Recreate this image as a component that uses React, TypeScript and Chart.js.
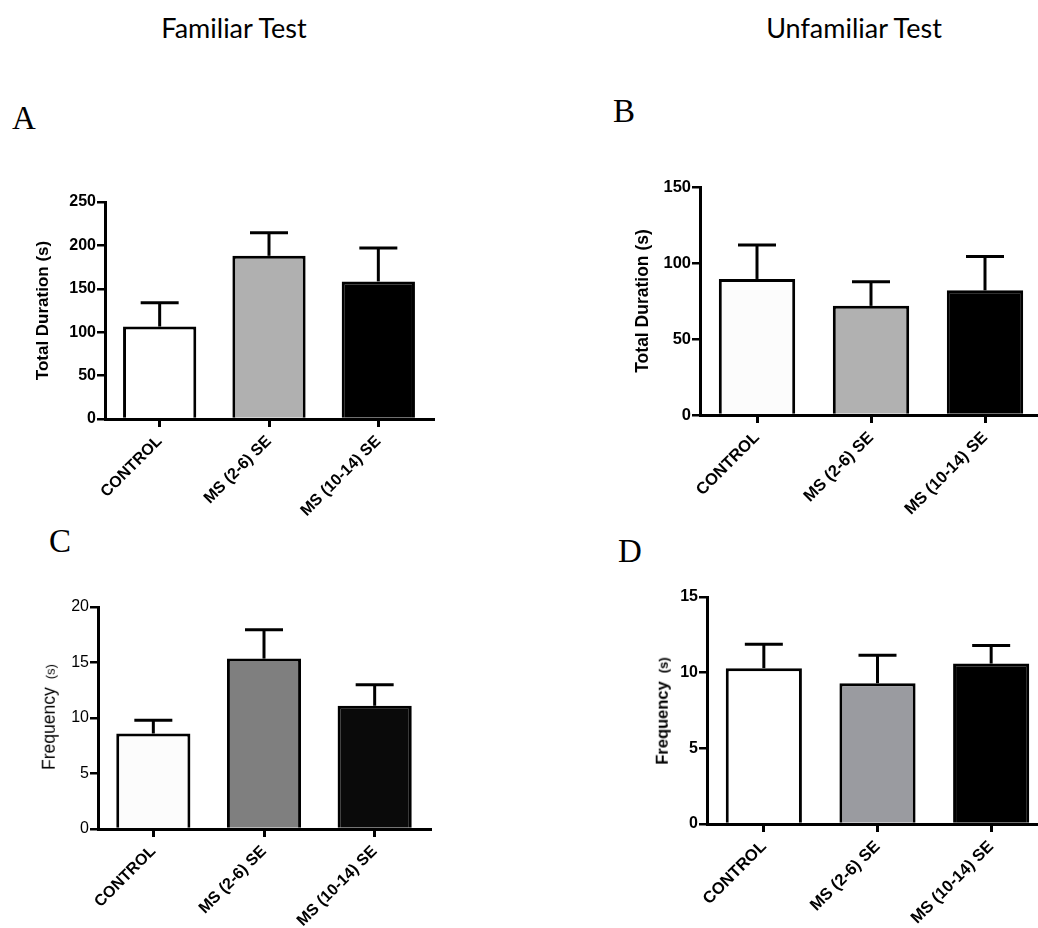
import React, { useEffect, useRef } from "react";
import { Chart, registerables } from "chart.js";

Chart.register(...registerables);

// ---------- data ----------
const categories = ["CONTROL", "MS (2-6) SE", "MS (10-14) SE"];

const durationFamiliar = [106.5, 188, 158.5];
const durationFamiliarSem = [27.5, 26.5, 38.5];
const durationFamiliarTicks = [0, 50, 100, 150, 200, 250];

const durationUnfamiliar = [89.5, 71.8, 82];
const durationUnfamiliarSem = [22.3, 15.8, 22.2];
const durationUnfamiliarTicks = [0, 50, 100, 150];

const frequencyFamiliar = [8.6, 15.35, 11.1];
const frequencyFamiliarSem = [1.2, 2.6, 1.9];
const frequencyFamiliarTicks = [0, 5, 10, 15, 20];

const frequencyUnfamiliar = [10.3, 9.3, 10.6];
const frequencyUnfamiliarSem = [1.58, 1.85, 1.2];
const frequencyUnfamiliarTicks = [0, 5, 10, 15];

const colorsA = ["#ffffff", "#b0b0b0", "#000000"];
const colorsB = ["#fcfcfc", "#b1b1b1", "#000000"];
const colorsC = ["#fcfcfc", "#7f7f7f", "#0a0a0a"];
const colorsD = ["#ffffff", "#9a9ba0", "#000000"];

const SANS = "'Liberation Sans', Arial, Helvetica, sans-serif";

type PanelProps = {
  left: number;
  top: number;
  width: number;
  height: number;
  padTop: number;
  padRight: number;
  yWidth: number;
  xHeight: number;
  values: number[];
  sems: number[];
  ticks: number[];
  colors: string[];
  tickBold: boolean;
  tickSize: number;
  xSize: number;
  title?: string;
  titleSize?: number;
  titlePad?: number;
};

const errorBarPlugin = {
  id: "errorBars",
  afterDatasetsDraw(chart: any, _args: any, opts: any) {
    const sems: number[] = opts.sems || [];
    const meta = chart.getDatasetMeta(0);
    const yScale = chart.scales.y;
    const data = chart.data.datasets[0].data as number[];
    const ctx = chart.ctx;
    ctx.save();
    ctx.strokeStyle = "#000";
    ctx.lineWidth = 3;
    ctx.lineCap = "butt";
    meta.data.forEach((bar: any, i: number) => {
      const v = data[i];
      const e = sems[i];
      const x = bar.x;
      const yBase = yScale.getPixelForValue(v);
      const yTop = yScale.getPixelForValue(v + e);
      ctx.beginPath();
      ctx.moveTo(x, yBase);
      ctx.lineTo(x, yTop);
      ctx.stroke();
      ctx.beginPath();
      ctx.moveTo(x - 19, yTop);
      ctx.lineTo(x + 19, yTop);
      ctx.stroke();
    });
    ctx.restore();
  },
};

function Panel(p: PanelProps) {
  const ref = useRef<HTMLCanvasElement | null>(null);
  useEffect(() => {
    if (!ref.current) return;
    const tickFont = { family: SANS, size: p.tickSize, weight: p.tickBold ? "bold" : "normal" } as any;
    const chart = new Chart(ref.current, {
      type: "bar",
      data: {
        labels: categories,
        datasets: [
          {
            data: p.values,
            backgroundColor: p.colors,
            borderColor: "#000",
            borderWidth: 3,
            borderSkipped: "start",
            categoryPercentage: 1,
            barPercentage: 0.67,
          } as any,
        ],
      },
      options: {
        responsive: false,
        maintainAspectRatio: false,
        animation: false,
        devicePixelRatio: 1,
        layout: { padding: { top: p.padTop, right: p.padRight, left: 0, bottom: 0 } },
        plugins: {
          legend: { display: false },
          tooltip: { enabled: false },
          title: { display: false },
          errorBars: { sems: p.sems },
        } as any,
        scales: {
          x: {
            type: "category",
            offset: true,
            grid: {
              display: true,
              offset: false,
              drawOnChartArea: false,
              drawTicks: true,
              tickLength: 8,
              color: "#000",
              lineWidth: 3,
            },
            border: { display: true, color: "#000", width: 3 },
            ticks: {
              color: "#000",
              font: { family: SANS, size: p.xSize, weight: "bold" } as any,
              maxRotation: 45,
              minRotation: 45,
              padding: 5,
              autoSkip: false,
            },
            afterFit: (s: any) => {
              s.height = p.xHeight;
            },
          } as any,
          y: {
            type: "linear",
            min: p.ticks[0],
            max: p.ticks[p.ticks.length - 1],
            afterBuildTicks: (s: any) => {
              s.ticks = p.ticks.map((v) => ({ value: v }));
            },
            ticks: {
              color: "#000",
              font: tickFont,
              padding: 1,
            },
            grid: {
              drawOnChartArea: false,
              drawTicks: true,
              tickLength: 8,
              color: "#000",
              lineWidth: 2.5,
            },
            border: { display: true, color: "#000", width: 3 },
            title: {
              display: !!p.title,
              text: p.title || "",
              color: "#000",
              font: { family: SANS, size: p.titleSize || 17, weight: "bold" } as any,
              padding: { top: p.titlePad || 0, bottom: 0 },
            },
            afterFit: (s: any) => {
              s.width = p.yWidth;
            },
          } as any,
        },
      },
      plugins: [errorBarPlugin],
    });
    return () => chart.destroy();
  }, []);
  return (
    <canvas
      ref={ref}
      width={p.width}
      height={p.height}
      style={{ position: "absolute", left: p.left, top: p.top, width: p.width, height: p.height }}
    />
  );
}

const serifLetter: React.CSSProperties = {
  position: "absolute",
  fontFamily: "'Liberation Serif', 'DejaVu Serif', serif",
  fontSize: 33,
  lineHeight: "33px",
  color: "#000",
  margin: 0,
};

const headStyle: React.CSSProperties = {
  position: "absolute",
  width: 300,
  textAlign: "center",
  fontFamily: "Lato, 'Open Sans', sans-serif",
  fontSize: 27,
  lineHeight: "27px",
  color: "#000",
};

function RotLabel(props: { cx: number; cy: number; size: number; small: number; bold: boolean }) {
  return (
    <div
      style={{
        position: "absolute",
        left: props.cx,
        top: props.cy,
        transform: "translate(-50%, -50%) rotate(-90deg)",
        whiteSpace: "nowrap",
        fontFamily: SANS,
        fontSize: props.size,
        fontWeight: props.bold ? "bold" : "normal",
        lineHeight: `${props.size}px`,
        color: "#000",
      }}
    >
      Frequency<span style={{ fontSize: props.small, marginLeft: 8 }}>(s)</span>
    </div>
  );
}

export default function App() {
  return (
    <div
      style={{
        position: "absolute",
        left: 0,
        top: 0,
        width: 1038,
        height: 928,
        overflow: "hidden",
        background: "#fff",
      }}
    >
      <div style={{ ...headStyle, left: 234 - 150, top: 14 }}>Familiar Test</div>
      <div style={{ ...headStyle, left: 854 - 150, top: 14 }}>Unfamiliar Test</div>

      <div style={{ ...serifLetter, left: 12, top: 102 }}>A</div>
      <div style={{ ...serifLetter, left: 613, top: 95 }}>B</div>
      <div style={{ ...serifLetter, left: 49, top: 525 }}>C</div>
      <div style={{ ...serifLetter, left: 618, top: 535 }}>D</div>

      <Panel
        left={0}
        top={170}
        width={445}
        height={359}
        padTop={32}
        padRight={12}
        yWidth={105}
        xHeight={110}
        values={durationFamiliar}
        sems={durationFamiliarSem}
        ticks={durationFamiliarTicks}
        colors={colorsA}
        tickBold={true}
        tickSize={16}
        xSize={16}
        title="Total Duration (s)"
        titleSize={17}
        titlePad={33}
      />
      <Panel
        left={590}
        top={160}
        width={464}
        height={365}
        padTop={27}
        padRight={12}
        yWidth={110}
        xHeight={110}
        values={durationUnfamiliar}
        sems={durationUnfamiliarSem}
        ticks={durationUnfamiliarTicks}
        colors={colorsB}
        tickBold={true}
        tickSize={16.5}
        xSize={16.5}
        title="Total Duration (s)"
        titleSize={17.5}
        titlePad={42.5}
      />
      <Panel
        left={0}
        top={580}
        width={442}
        height={348}
        padTop={27}
        padRight={12}
        yWidth={98}
        xHeight={99}
        values={frequencyFamiliar}
        sems={frequencyFamiliarSem}
        ticks={frequencyFamiliarTicks}
        colors={colorsC}
        tickBold={false}
        tickSize={16}
        xSize={16}
      />
      <Panel
        left={590}
        top={570}
        width={470}
        height={354}
        padTop={27}
        padRight={12}
        yWidth={117}
        xHeight={100}
        values={frequencyUnfamiliar}
        sems={frequencyUnfamiliarSem}
        ticks={frequencyUnfamiliarTicks}
        colors={colorsD}
        tickBold={true}
        tickSize={16}
        xSize={16.5}
      />
      <RotLabel cx={50} cy={717} size={17.5} small={13} bold={false} />
      <RotLabel cx={663} cy={711} size={16.5} small={13} bold={true} />
    </div>
  );
}
